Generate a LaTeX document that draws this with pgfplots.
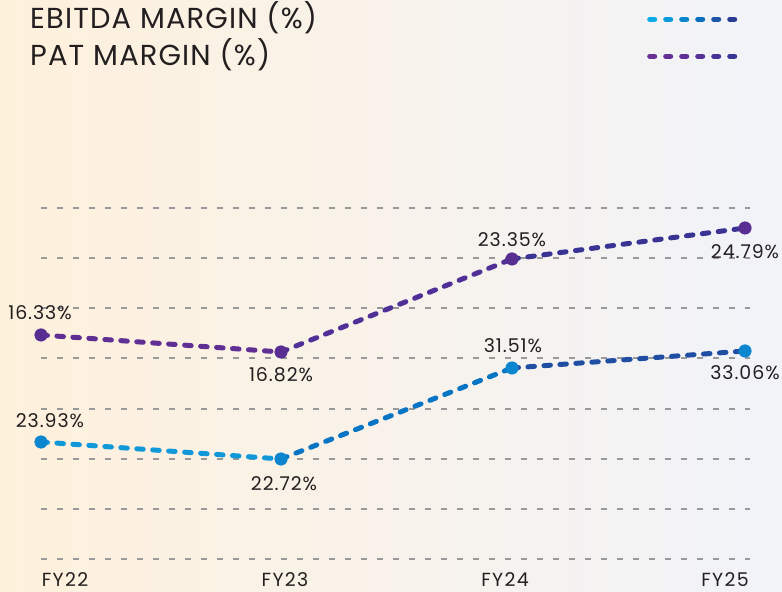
\documentclass[border=0pt]{standalone}
\usepackage{fontspec}
\setmainfont{Poppins}
\newfontfamily\legfont[LetterSpace=4]{Poppins}
\newfontfamily\numfont[LetterSpace=5]{Poppins}
\newfontfamily\fyfont[LetterSpace=7]{Poppins}
\usepackage{pgfplots}
\usepackage{pgfplotstable}
\pgfplotsset{compat=1.18}
\definecolor{txt}{HTML}{231F20}
\definecolor{gridc}{HTML}{999999}
\definecolor{bgl}{HTML}{FEF1DC}
\definecolor{bgm}{HTML}{FAF4EA}
\definecolor{bgr}{HTML}{F1F3F9}
\definecolor{emark}{HTML}{0B86CF}
\definecolor{pmark}{HTML}{582E93}
\definecolor{e1}{HTML}{0DABE6}
\definecolor{e2}{HTML}{0D9ADB}
\definecolor{e3}{HTML}{0A85CD}
\definecolor{e4}{HTML}{0B6EBF}
\definecolor{e5}{HTML}{1A55A8}
\definecolor{e6}{HTML}{2B3C93}
\definecolor{p1}{HTML}{6A3093}
\definecolor{p2}{HTML}{643095}
\definecolor{p3}{HTML}{5E3095}
\definecolor{p4}{HTML}{553196}
\definecolor{p5}{HTML}{483296}
\definecolor{p6}{HTML}{383494}
\pgfplotsset{
  colormap={ebitdacm}{rgb255=(20,170,228) rgb255=(8,118,196) rgb255=(44,58,146)},
  colormap={patcm}{rgb255=(104,46,146) rgb255=(80,48,150) rgb255=(46,52,146)},
}
\pgfplotstableread{
x y lbl dx dy
41 150 23.93 9 21
281 133 22.72 3 -25
512 224 31.51 1 22
745 241 33.06 0 -22
}\ebitda
\pgfplotstableread{
x y lbl dx dy
41 257 16.33 -1 22
281 240 16.82 0 -23
512 333 23.35 0 19
745 364 24.79 0 -24
}\pat
\begin{document}
\begin{tikzpicture}
\shade[left color=bgl, middle color=bgm, right color=bgr] (0bp,0bp) rectangle (782bp,592bp);
\begin{axis}[
  at={(41bp,33bp)}, anchor=south west,
  scale only axis, width=709bp, height=351bp,
  xmin=41, xmax=750, ymin=33, ymax=384,
  clip=false,
  axis line style={draw=none},
  major tick length=0pt,
  ytick={33,83.14,133.29,183.43,233.57,283.71,333.86,384},
  yticklabels={},
  ymajorgrids,
  grid style={gridc, line width=1.9bp, dash pattern=on 6bp off 10bp},
  xtick={65,285,505,725},
  xticklabels={FY22,FY23,FY24,FY25},
  xticklabel style={anchor=base, yshift=-27bp, inner sep=0pt, text depth=0pt, font=\fyfont\fontsize{19}{19}\selectfont, text=txt},
  point meta min=41, point meta max=745,
  legend plot pos=right,
  legend cell align=left,
  legend style={at={(-0.01551,1.5698)}, anchor=north west, draw=none, fill=none,
    inner sep=0pt, column sep=0pt, row sep=11bp,
    nodes={inner sep=0pt, text height=20bp, text depth=6bp, text=txt},
    font=\legfont\fontsize{29}{29}\selectfont},
]
\addlegendimage{legend image code/.code={
  \foreach \c [count=\i from 0] in {e1,e2,e3,e4,e5,e6}{\draw[\c, line width=5bp, line cap=round] ({\i*16bp+2.5bp},2bp) -- ({\i*16bp+7.5bp},2bp);}
}}
\addlegendentry{\makebox[617bp][l]{EBITDA MARGIN (\%)}}
\addlegendimage{legend image code/.code={
  \foreach \c [count=\i from 0] in {p1,p2,p3,p4,p5,p6}{\draw[\c, line width=5bp, line cap=round] ({\i*16bp+2.5bp},2bp) -- ({\i*16bp+7.5bp},2bp);}
}}
\addlegendentry{\makebox[617bp][l]{PAT MARGIN (\%)}}

\addplot[mesh, colormap name=ebitdacm, point meta=x, line width=5bp, line cap=round,
  dash pattern=on 6.5bp off 9.5bp, forget plot] table[x=x,y=y] {\ebitda};
\addplot[mesh, colormap name=patcm, point meta=x, line width=5bp, line cap=round,
  dash pattern=on 6.5bp off 9.5bp, forget plot] table[x=x,y=y] {\pat};

\addplot[only marks, mark=*, mark size=6.3bp, color=emark, forget plot,
  point meta=explicit symbolic,
  visualization depends on={\thisrow{dx} \as \dx},
  visualization depends on={\thisrow{dy} \as \dy},
  nodes near coords={\pgfplotspointmeta\%},
  every node near coord/.append style={anchor=center, xshift=\dx bp, yshift=\dy bp,
    text=txt, font=\numfont\fontsize{19}{19}\selectfont}]
  table[x=x,y=y,meta=lbl] {\ebitda};
\addplot[only marks, mark=*, mark size=6.3bp, color=pmark, forget plot,
  point meta=explicit symbolic,
  visualization depends on={\thisrow{dx} \as \dx},
  visualization depends on={\thisrow{dy} \as \dy},
  nodes near coords={\pgfplotspointmeta\%},
  every node near coord/.append style={anchor=center, xshift=\dx bp, yshift=\dy bp,
    text=txt, font=\numfont\fontsize{19}{19}\selectfont}]
  table[x=x,y=y,meta=lbl] {\pat};
\end{axis}
\pgfresetboundingbox
\useasboundingbox (0bp,0bp) rectangle (782bp,592bp);
\end{tikzpicture}
\end{document}
